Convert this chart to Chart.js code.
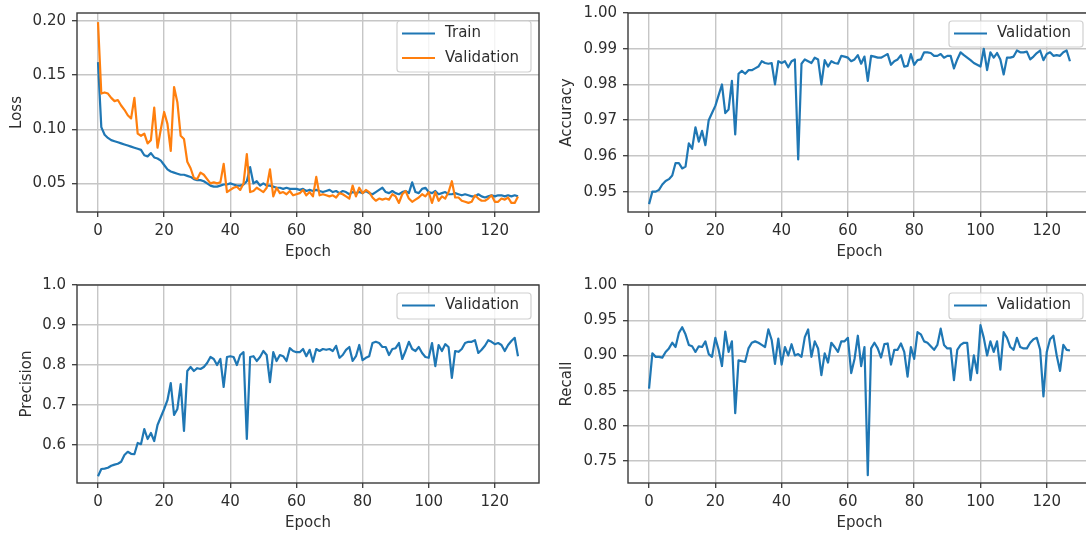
<!DOCTYPE html>
<html>
<head>
<meta charset="utf-8">
<title>Training history</title>
<script src="https://cdn.jsdelivr.net/npm/chart.js@4.4.0/dist/chart.umd.min.js"></script>
<style>
  html, body { margin: 0; padding: 0; background: #fff; overflow: hidden; }
  body { width: 1086px; height: 535px; position: relative; }
  canvas { position: absolute; }
</style>
</head>
<body>
<canvas id="lossChart"></canvas>
<canvas id="accuracyChart"></canvas>
<canvas id="precisionChart"></canvas>
<canvas id="recallChart"></canvas>
<script>
// per-epoch history, epochs 0..127
const trainLoss = [
  0.162, 0.102, 0.095, 0.092, 0.090, 0.089, 0.088, 0.087, 0.086, 0.085,
  0.084, 0.083, 0.082, 0.081, 0.076, 0.075, 0.078, 0.074, 0.073, 0.071,
  0.067, 0.063, 0.061, 0.060, 0.059, 0.058, 0.058, 0.057, 0.056, 0.054,
  0.053, 0.053, 0.052, 0.050, 0.048, 0.047, 0.047, 0.048, 0.049, 0.049,
  0.050, 0.049, 0.048, 0.048, 0.049, 0.052, 0.065, 0.050, 0.052, 0.048,
  0.050, 0.048, 0.048, 0.047, 0.046, 0.046, 0.045, 0.046, 0.045, 0.045,
  0.045, 0.044, 0.045, 0.043, 0.044, 0.043, 0.044, 0.043, 0.042, 0.043,
  0.044, 0.042, 0.043, 0.041, 0.043, 0.042, 0.040, 0.042, 0.041, 0.042,
  0.041, 0.043, 0.041, 0.040, 0.042, 0.044, 0.046, 0.042, 0.041, 0.043,
  0.041, 0.040, 0.042, 0.043, 0.041, 0.051, 0.042, 0.041, 0.045, 0.046,
  0.042, 0.041, 0.043, 0.040, 0.041, 0.042, 0.040, 0.040, 0.041, 0.040,
  0.039, 0.040, 0.039, 0.038, 0.038, 0.040, 0.038, 0.037, 0.038, 0.039,
  0.038, 0.039, 0.039, 0.038, 0.039, 0.038, 0.039, 0.038
];
const valLoss = [
  0.199, 0.133, 0.134, 0.133, 0.129, 0.126, 0.127, 0.122, 0.118, 0.113,
  0.110, 0.129, 0.096, 0.094, 0.096, 0.087, 0.090, 0.120, 0.083, 0.100,
  0.116, 0.105, 0.080, 0.139, 0.125, 0.094, 0.091, 0.070, 0.064, 0.055,
  0.054, 0.060, 0.058, 0.054, 0.050, 0.051, 0.050, 0.051, 0.068, 0.042,
  0.044, 0.046, 0.047, 0.044, 0.050, 0.077, 0.042, 0.043, 0.046, 0.044,
  0.042, 0.046, 0.063, 0.038, 0.046, 0.041, 0.042, 0.040, 0.043, 0.039,
  0.040, 0.041, 0.044, 0.039, 0.042, 0.038, 0.056, 0.039, 0.040, 0.039,
  0.038, 0.039, 0.037, 0.041, 0.040, 0.038, 0.036, 0.048, 0.038, 0.046,
  0.041, 0.044, 0.042, 0.037, 0.034, 0.036, 0.035, 0.036, 0.035, 0.040,
  0.038, 0.032, 0.040, 0.043, 0.036, 0.033, 0.035, 0.037, 0.040, 0.038,
  0.042, 0.032, 0.042, 0.034, 0.038, 0.036, 0.042, 0.052, 0.037, 0.037,
  0.034, 0.033, 0.032, 0.033, 0.039, 0.036, 0.034, 0.034, 0.036, 0.039,
  0.033, 0.033, 0.036, 0.035, 0.037, 0.032, 0.032, 0.038
];
const valAccuracy = [
  0.9465, 0.9500, 0.9500, 0.9505, 0.9520, 0.9530, 0.9535, 0.9545, 0.9580, 0.9580,
  0.9565, 0.9570, 0.9635, 0.9620, 0.9680, 0.9640, 0.9670, 0.9630, 0.9700, 0.9720,
  0.9740, 0.9770, 0.9800, 0.9720, 0.9730, 0.9810, 0.9660, 0.9830, 0.9838, 0.9830,
  0.9840, 0.9840, 0.9845, 0.9850, 0.9865, 0.9860, 0.9858, 0.9860, 0.9800, 0.9865,
  0.9860, 0.9865, 0.9848, 0.9865, 0.9870, 0.9590, 0.9858, 0.9870, 0.9865, 0.9860,
  0.9875, 0.9870, 0.9800, 0.9868, 0.9850, 0.9865, 0.9860, 0.9858, 0.9880, 0.9878,
  0.9875, 0.9865, 0.9870, 0.9882, 0.9858, 0.9878, 0.9810, 0.9880, 0.9878, 0.9875,
  0.9875, 0.9880, 0.9885, 0.9855, 0.9865, 0.9870, 0.9882, 0.9850, 0.9852, 0.9885,
  0.9855, 0.9868, 0.9870, 0.9890, 0.9890, 0.9888, 0.9880, 0.9880, 0.9885, 0.9875,
  0.9880, 0.9880, 0.9845, 0.9870, 0.9890, 0.9882, 0.9875, 0.9868, 0.9860, 0.9855,
  0.9850, 0.9900, 0.9840, 0.9890, 0.9875, 0.9888, 0.9870, 0.9828, 0.9875, 0.9875,
  0.9878, 0.9895, 0.9890, 0.9890, 0.9892, 0.9870, 0.9878, 0.9888, 0.9895, 0.9868,
  0.9885, 0.9890, 0.9880, 0.9882, 0.9880, 0.9890, 0.9895, 0.9865
];
const valPrecision = [
  0.522, 0.540, 0.541, 0.543, 0.548, 0.551, 0.553, 0.558, 0.575, 0.583,
  0.578, 0.577, 0.605, 0.602, 0.640, 0.615, 0.630, 0.610, 0.650, 0.670,
  0.690, 0.712, 0.755, 0.675, 0.690, 0.752, 0.635, 0.785, 0.795, 0.785,
  0.792, 0.790, 0.795, 0.805, 0.820, 0.815, 0.800, 0.815, 0.745, 0.820,
  0.822, 0.820, 0.800, 0.825, 0.832, 0.615, 0.820, 0.822, 0.810, 0.820,
  0.835, 0.825, 0.757, 0.832, 0.810, 0.825, 0.822, 0.810, 0.842, 0.835,
  0.832, 0.832, 0.840, 0.822, 0.838, 0.808, 0.840, 0.835, 0.840, 0.838,
  0.840, 0.835, 0.848, 0.818, 0.825, 0.838, 0.845, 0.810, 0.822, 0.850,
  0.812, 0.818, 0.822, 0.855, 0.858, 0.855, 0.845, 0.845, 0.825, 0.840,
  0.842, 0.855, 0.815, 0.835, 0.858, 0.840, 0.835, 0.845, 0.830, 0.820,
  0.818, 0.855, 0.797, 0.850, 0.835, 0.852, 0.845, 0.768, 0.835, 0.833,
  0.840, 0.855, 0.858, 0.858, 0.862, 0.830, 0.838, 0.848, 0.862, 0.858,
  0.852, 0.855, 0.850, 0.835, 0.850, 0.860, 0.868, 0.822
];
const valRecall = [
  0.853, 0.903, 0.898, 0.898, 0.897, 0.905, 0.910, 0.918, 0.912, 0.932,
  0.940, 0.930, 0.915, 0.913, 0.905, 0.913, 0.912, 0.920, 0.902, 0.898,
  0.925, 0.908, 0.885, 0.934, 0.905, 0.920, 0.818, 0.893, 0.892, 0.891,
  0.910, 0.918, 0.920, 0.918, 0.915, 0.912, 0.937, 0.922, 0.888, 0.924,
  0.887, 0.912, 0.900, 0.916, 0.900, 0.902, 0.898, 0.926, 0.937, 0.898,
  0.920, 0.910, 0.872, 0.903, 0.890, 0.918, 0.912, 0.905, 0.920, 0.920,
  0.925, 0.875, 0.895, 0.928, 0.885, 0.912, 0.730, 0.910, 0.918, 0.910,
  0.897, 0.916, 0.917, 0.887, 0.908, 0.908, 0.917, 0.905, 0.870, 0.912,
  0.895, 0.933, 0.930, 0.920, 0.918, 0.913, 0.908, 0.915, 0.938, 0.915,
  0.910, 0.910, 0.865, 0.908, 0.915, 0.918, 0.918, 0.865, 0.900, 0.875,
  0.943, 0.925, 0.900, 0.920, 0.905, 0.920, 0.880, 0.933, 0.925, 0.912,
  0.908, 0.925, 0.912, 0.910, 0.910, 0.918, 0.923, 0.925, 0.908, 0.842,
  0.905, 0.923, 0.928, 0.900, 0.878, 0.915, 0.908, 0.907
];

const epochs = valLoss.map((_, i) => i);
const epochTicks = [0, 20, 40, 60, 80, 100, 120];
const lossTicks = [0.05, 0.10, 0.15, 0.20];
const accuracyTicks = [0.95, 0.96, 0.97, 0.98, 0.99, 1.00];
const precisionTicks = [0.6, 0.7, 0.8, 0.9, 1.0];
const recallTicks = [0.75, 0.80, 0.85, 0.90, 0.95, 1.00];

const BLUE = '#1f77b4';
const ORANGE = '#ff7f0e';
const FONT = 'DejaVu Sans';
const FONT_SIZE = 15;
const LINE_H = 1.2;
const TEXT = '#2e2e2e';
const FRAME = '#3a3a3a';
const GRID = '#c6c6c6';

// x range with 5% margins around 0..127
const X_MIN = -6.35;
const X_MAX = 133.35;

// full box around the plot area, drawn above the lines
const framePlugin = {
  id: 'frame',
  afterDatasetsDraw(chart) {
    const { ctx, chartArea: a } = chart;
    ctx.save();
    ctx.strokeStyle = FRAME;
    ctx.lineWidth = 1.4;
    ctx.strokeRect(a.left, a.top, a.right - a.left, a.bottom - a.top);
    ctx.restore();
  }
};

// legend box in the upper right corner of the plot area
const innerLegend = {
  id: 'innerLegend',
  afterDraw(chart) {
    const { ctx, chartArea: a } = chart;
    const sets = chart.data.datasets;
    const w = 134, h = 25 * sets.length + 1;
    const x = a.right - 8 - w, y = a.top + 8;
    ctx.save();
    ctx.beginPath();
    ctx.roundRect(x, y, w, h, 3);
    ctx.fillStyle = 'rgba(255,255,255,0.8)';
    ctx.fill();
    ctx.strokeStyle = '#d0d0d0';
    ctx.lineWidth = 1.2;
    ctx.stroke();
    ctx.font = FONT_SIZE + 'px "' + FONT + '"';
    ctx.textBaseline = 'middle';
    ctx.textAlign = 'left';
    sets.forEach((ds, i) => {
      const cy = y + 12.5 + 24.5 * i;
      ctx.strokeStyle = ds.borderColor;
      ctx.lineWidth = 2.2;
      ctx.beginPath();
      ctx.moveTo(x + 5, cy);
      ctx.lineTo(x + 38, cy);
      ctx.stroke();
      ctx.fillStyle = TEXT;
      ctx.fillText(ds.label, x + 48, cy);
    });
    ctx.restore();
  }
};

function makePanel(cfg) {
  const canvas = document.getElementById(cfg.id);
  const b = cfg.box, a = cfg.area;
  canvas.width = b.w;
  canvas.height = b.h;
  canvas.style.left = b.x + 'px';
  canvas.style.top = b.y + 'px';
  canvas.style.width = b.w + 'px';
  canvas.style.height = b.h + 'px';

  const half = FONT_SIZE * LINE_H / 2;
  const padLeft = cfg.yTitleX - b.x - half;
  const yAxisWidth = a.left - b.x - padLeft;
  const padTop = a.top - b.y;
  const padRight = b.x + b.w - a.right;
  const xAxisHeight = cfg.xTitleY + half - a.bottom;
  const padBottom = b.y + b.h - (cfg.xTitleY + half);

  const font = { family: FONT, size: FONT_SIZE, lineHeight: LINE_H };
  const grid = { color: GRID, lineWidth: 1.4, tickColor: FRAME, tickWidth: 1.3, tickLength: 5 };

  return new Chart(canvas, {
    type: 'line',
    data: {
      datasets: cfg.series.map(s => ({
        label: s.label,
        data: epochs.map((e, i) => ({ x: e, y: s.values[i] })),
        borderColor: s.color,
        borderWidth: 2.2,
        borderJoinStyle: 'round',
        pointRadius: 0,
        tension: 0,
        fill: false,
        order: s.order
      }))
    },
    options: {
      responsive: false,
      animation: false,
      events: [],
      layout: { padding: { left: padLeft, top: padTop, right: padRight, bottom: padBottom } },
      plugins: { legend: { display: false }, tooltip: { enabled: false } },
      scales: {
        x: {
          type: 'linear',
          min: X_MIN,
          max: X_MAX,
          afterBuildTicks: s => { s.ticks = epochTicks.map(v => ({ value: v })); },
          afterFit: s => { s.height = xAxisHeight; s.paddingLeft = 0; s.paddingRight = 0; },
          border: { display: false },
          grid: grid,
          ticks: { font: font, color: TEXT, padding: 5, maxRotation: 0, autoSkip: false, callback: v => String(v) },
          title: { display: true, text: 'Epoch', font: font, color: TEXT, padding: 0 }
        },
        y: {
          min: cfg.yMin,
          max: cfg.yMax,
          afterBuildTicks: s => { s.ticks = cfg.yTicks.map(v => ({ value: v })); },
          afterFit: s => { s.width = yAxisWidth; s.paddingTop = 0; s.paddingBottom = 0; },
          border: { display: false },
          grid: grid,
          ticks: { font: font, color: TEXT, padding: 6, autoSkip: false, callback: v => v.toFixed(cfg.digits) },
          title: { display: true, text: cfg.yLabel, font: font, color: TEXT, padding: 0 }
        }
      }
    },
    plugins: [framePlugin, innerLegend]
  });
}

makePanel({
  id: 'lossChart',
  box: { x: 0, y: 0, w: 545, h: 268 },
  area: { left: 77, top: 13, right: 539, bottom: 212 },
  yTitleX: 17, xTitleY: 252,
  yLabel: 'Loss', yMin: 0.0236, yMax: 0.2074, yTicks: lossTicks, digits: 2,
  series: [
    { label: 'Train', values: trainLoss, color: BLUE, order: 1 },
    { label: 'Validation', values: valLoss, color: ORANGE, order: 0 }
  ]
});

makePanel({
  id: 'accuracyChart',
  box: { x: 545, y: 0, w: 560, h: 268 },
  area: { left: 628, top: 13, right: 1091, bottom: 212 },
  yTitleX: 567, xTitleY: 252,
  yLabel: 'Accuracy', yMin: 0.9443, yMax: 1.0, yTicks: accuracyTicks, digits: 2,
  series: [{ label: 'Validation', values: valAccuracy, color: BLUE, order: 0 }]
});

makePanel({
  id: 'precisionChart',
  box: { x: 0, y: 268, w: 545, h: 267 },
  area: { left: 77, top: 285, right: 539, bottom: 483 },
  yTitleX: 27, xTitleY: 523,
  yLabel: 'Precision', yMin: 0.505, yMax: 1.0, yTicks: precisionTicks, digits: 1,
  series: [{ label: 'Validation', values: valPrecision, color: BLUE, order: 0 }]
});

makePanel({
  id: 'recallChart',
  box: { x: 545, y: 268, w: 560, h: 267 },
  area: { left: 628, top: 285, right: 1091, bottom: 483 },
  yTitleX: 567, xTitleY: 523,
  yLabel: 'Recall', yMin: 0.719, yMax: 1.0, yTicks: recallTicks, digits: 2,
  series: [{ label: 'Validation', values: valRecall, color: BLUE, order: 0 }]
});
</script>
</body>
</html>
